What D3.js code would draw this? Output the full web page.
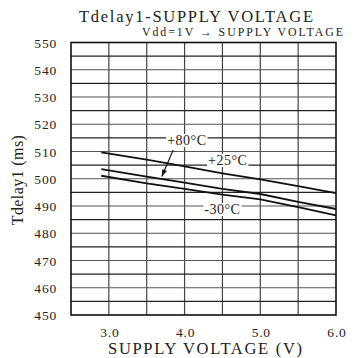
<!DOCTYPE html>
<html><head><meta charset="utf-8">
<script src="https://cdn.jsdelivr.net/npm/d3@7/dist/d3.min.js"></script>
<style>
body{margin:0;background:#fff;}
svg text{font-family:'Liberation Serif','Times New Roman',Times,'Nimbus Roman','Tinos',serif;fill:#222;}
</style></head>
<body><svg id="c" width="355" height="358"></svg>
<script>
const xTicks = [3.0, 4.0, 5.0, 6.0];
const yTicks = [450,460,470,480,490,500,510,520,530,540,550];
const volts = [2.9, 3.5, 4.0, 4.5, 5.0, 5.5, 6.0];
const t25 = [509.7, 507.0, 504.5, 502.0, 499.8, 497.3, 494.7];
const t80 = [503.5, 500.8, 498.6, 496.3, 494.4, 491.5, 488.9];
const tm30 = [501.1, 498.3, 496.3, 494.2, 492.4, 489.6, 486.6];
const seriesNames = ["+25°C", "+80°C", "-30°C"];
const labelPos = [[4.57, 506.9], [4.03, 514.2], [4.5, 488.9]];

const FF = "'Liberation Serif','Times New Roman',Times,serif";
const svg = d3.select("#c");
const L = 71, R = 336, T = 42.5, B = 315;
const x = d3.scaleLinear().domain([2.5, 6.0]).range([L, R]);
const y = d3.scaleLinear().domain([450, 550]).range([B, T]);

// grid
const g = svg.append("g");
g.selectAll("line.v").data(d3.range(3.0, 6.0, 0.5)).enter().append("line")
  .attr("x1", d => x(d)).attr("x2", d => x(d)).attr("y1", T).attr("y2", B)
  .attr("stroke", "#444").attr("stroke-width", 1.2);
g.selectAll("line.h").data(d3.range(455, 550, 5)).enter().append("line")
  .attr("x1", L).attr("x2", R).attr("y1", d => y(d)).attr("y2", d => y(d))
  .attr("stroke", (d) => d % 10 === 0 ? "#555" : "#222").attr("stroke-width", 1.2);

// lines
const line = d3.line().x((d, i) => x(volts[i])).y(d => y(d));
[t25, t80, tm30].forEach(s => {
  svg.append("path").attr("d", line(s)).attr("fill", "none")
    .attr("stroke", "#111").attr("stroke-width", 1.8);
});

// border
svg.append("rect").attr("x", L).attr("y", T).attr("width", R - L).attr("height", B - T)
  .attr("fill", "none").attr("stroke", "#111").attr("stroke-width", 1.6);

// y axis labels
svg.selectAll("text.yt").data(yTicks).enter().append("text")
  .attr("font-family", FF)
  .attr("x", 57).attr("y", d => y(d) + 5)
  .attr("text-anchor", "end").attr("font-size", 13.5).attr("letter-spacing", 0.8)
  .text(d => d);

// x axis labels
svg.selectAll("text.xt").data(xTicks).enter().append("text")
  .attr("font-family", FF)
  .attr("x", d => x(d) + 1).attr("y", 337).attr("text-anchor", "middle")
  .attr("font-size", 13.5).attr("letter-spacing", 0.8)
  .text(d => d.toFixed(1));

// titles
svg.append("text").attr("font-family", FF).attr("x", 79).attr("y", 22).attr("font-size", 16.5)
  .attr("textLength", 234).attr("lengthAdjust", "spacing").text("Tdelay1-SUPPLY VOLTAGE");
svg.append("text").attr("font-family", FF).attr("x", 142).attr("y", 35.5).attr("font-size", 11.8)
  .attr("textLength", 201).attr("lengthAdjust", "spacing").text("Vdd=1V → SUPPLY VOLTAGE");
svg.append("text").attr("font-family", FF).attr("x", 108).attr("y", 354).attr("font-size", 16.5)
  .attr("textLength", 194).attr("lengthAdjust", "spacing").text("SUPPLY VOLTAGE (V)");
svg.append("text").attr("font-family", FF).attr("transform", "translate(23,180) rotate(-90)")
  .attr("text-anchor", "middle").attr("font-size", 16).attr("letter-spacing", 0.4)
  .text("Tdelay1 (ms)");

// annotation labels with white boxes
seriesNames.forEach((n, i) => {
  const [vx, vy] = labelPos[i];
  const t = svg.append("text").attr("font-family", FF).attr("x", x(vx)).attr("y", y(vy) + 5)
    .attr("text-anchor", "middle")
    .attr("font-size", 14).attr("letter-spacing", 0.5).text(n);
  const bb = t.node().getBBox();
  svg.insert("rect", () => t.node()).attr("x", bb.x - 1).attr("y", bb.y + 1)
    .attr("width", bb.width + 2).attr("height", bb.height - 2).attr("fill", "#fff");
});

// arrow for +80
const ax1 = x(3.85), ay1 = y(510.6), ax2 = x(3.7), ay2 = y(500.8);
svg.append("line").attr("x1", ax1).attr("y1", ay1).attr("x2", ax2).attr("y2", ay2)
  .attr("stroke", "#111").attr("stroke-width", 1.2);
const ang = Math.atan2(ay2 - ay1, ax2 - ax1);
const hl = 7, hw = 2.5;
const bx = ax2 - hl * Math.cos(ang), by = ay2 - hl * Math.sin(ang);
svg.append("path").attr("d", `M${ax2},${ay2} L${bx - hw * Math.sin(ang)},${by + hw * Math.cos(ang)} L${bx + hw * Math.sin(ang)},${by - hw * Math.cos(ang)} Z`)
  .attr("fill", "#111");
</script></body></html>
